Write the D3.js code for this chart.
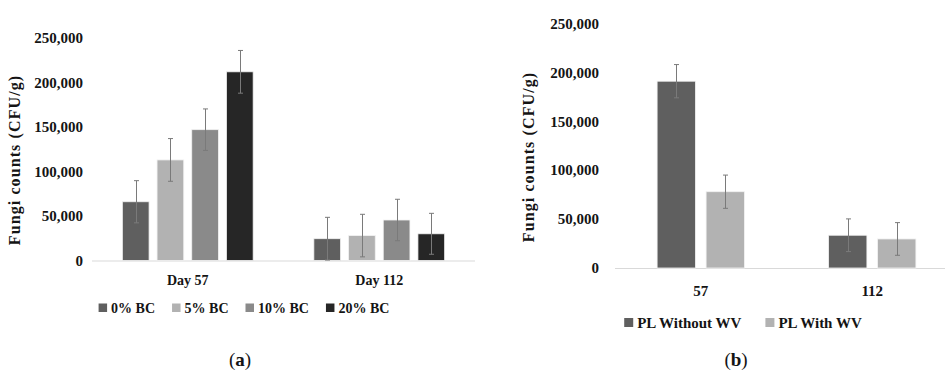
<!DOCTYPE html>
<html>
<head>
<meta charset="utf-8">
<script src="https://cdn.jsdelivr.net/npm/d3@7"></script>
<style>
  body { margin: 0; background: #fff; }
  svg { display: block; font-family: "Liberation Serif", "Times New Roman", serif; }
</style>
</head>
<body>
<svg id="chart" width="945" height="370"></svg>
<script>
// panel (a)
const daysA = ['Day 57', 'Day 112'];
const seriesA = ['0% BC', '5% BC', '10% BC', '20% BC'];
const valuesA = [
  [66000, 24500],
  [113000, 28000],
  [147000, 45500],
  [212000, 30000],
];
const errorsA = [
  [23700, 24000],
  [24000, 23900],
  [23300, 23300],
  [24000, 23000],
];
const colorsA = ['#5f5f5f', '#b2b2b2', '#8a8a8a', '#262626'];

// panel (b)
const daysB = ['57', '112'];
const seriesB = ['PL Without WV', 'PL With WV'];
const valuesB = [
  [191000, 33500],
  [78000, 29700],
];
const errorsB = [
  [17000, 16700],
  [17000, 16700],
];
const colorsB = ['#5f5f5f', '#b2b2b2'];

const yTicks = [0, 50000, 100000, 150000, 200000, 250000];
const TEXT = '#141414';
const fmt = d3.format(',');

const svg = d3.select('#chart');

function drawPanel(opt) {
  const { days, series, values, errors, colors } = opt;
  const g = svg.append('g');

  const y = d3.scaleLinear().domain([0, 250000]).range([opt.y0, opt.y1]);
  const x0 = d3.scaleBand().domain(days).range([opt.xl, opt.xr])
    .paddingInner(opt.pi).paddingOuter(opt.pi / 2);
  const x1 = d3.scaleBand().domain(series).range([0, x0.bandwidth()])
    .paddingInner(opt.barGap);

  // y tick labels (no axis line)
  g.selectAll('text.ytick')
    .data(yTicks)
    .join('text')
    .attr('class', 'ytick')
    .attr('x', opt.tickX)
    .attr('y', d => y(d))
    .attr('dy', '0.35em')
    .attr('text-anchor', 'end')
    .attr('font-size', 15)
    .attr('font-weight', 'bold')
    .attr('fill', TEXT)
    .text(d => fmt(d));

  // y title
  g.append('text')
    .attr('transform', `translate(${opt.titleX},${opt.titleY}) rotate(-90)`)
    .attr('text-anchor', 'middle')
    .attr('font-size', 16)
    .attr('font-weight', 'bold')
    .attr('letter-spacing', 1.1)
    .attr('fill', TEXT)
    .text('Fungi counts (CFU/g)');

  // baseline
  g.append('line')
    .attr('x1', opt.xl).attr('x2', opt.xr)
    .attr('y1', y(0) + 0.5).attr('y2', y(0) + 0.5)
    .attr('stroke', '#d9d9d9')
    .attr('stroke-width', 1.2);

  const rows = [];
  series.forEach((s, si) => {
    days.forEach((d, di) => {
      rows.push({ s, d, si, v: values[si][di], e: errors[si][di] });
    });
  });

  g.selectAll('rect.bar')
    .data(rows)
    .join('rect')
    .attr('class', 'bar')
    .attr('x', r => x0(r.d) + x1(r.s))
    .attr('y', r => y(r.v))
    .attr('width', x1.bandwidth())
    .attr('height', r => y(0) - y(r.v))
    .attr('fill', r => colors[r.si])
    .attr('stroke', '#f2f2f2')
    .attr('stroke-width', 0.8);

  // error bars
  const eb = g.selectAll('g.err')
    .data(rows)
    .join('g')
    .attr('class', 'err')
    .attr('stroke', '#7a7a7a')
    .attr('stroke-width', 1);
  const cx = r => Math.round(x0(r.d) + x1(r.s) + x1.bandwidth() / 2) + 0.5;
  eb.append('line')
    .attr('x1', cx).attr('x2', cx)
    .attr('y1', r => y(r.v + r.e)).attr('y2', r => y(r.v - r.e));
  [1, -1].forEach(sign => {
    eb.append('line')
      .attr('x1', r => cx(r) - 2.5).attr('x2', r => cx(r) + 2.5)
      .attr('y1', r => y(r.v + sign * r.e)).attr('y2', r => y(r.v + sign * r.e));
  });

  // category labels
  g.selectAll('text.cat')
    .data(days)
    .join('text')
    .attr('class', 'cat')
    .attr('x', d => x0(d) + x0.bandwidth() / 2)
    .attr('y', opt.catY)
    .attr('text-anchor', 'middle')
    .attr('font-size', opt.catSize)
    .attr('font-weight', 'bold')
    .attr('fill', TEXT)
    .text(d => d);

  // legend, laid out from measured text widths and centred
  const leg = g.append('g');
  const sq = opt.legSq;
  let cursor = 0;
  series.forEach((s, si) => {
    const item = leg.append('g').attr('transform', `translate(${cursor},0)`);
    item.append('rect')
      .attr('x', 0).attr('y', -sq - 1)
      .attr('width', sq).attr('height', sq)
      .attr('fill', colors[si]);
    const t = item.append('text')
      .attr('x', sq + 4)
      .attr('y', 0)
      .attr('font-size', opt.legSize)
      .attr('font-weight', 'bold')
      .attr('fill', TEXT)
      .text(s);
    cursor += sq + 4 + t.node().getComputedTextLength() + opt.legGap;
  });
  const legW = cursor - opt.legGap;
  leg.attr('transform', `translate(${opt.legCx - legW / 2},${opt.legY})`);

  // panel letter
  const lab = g.append('text')
    .attr('x', opt.labX)
    .attr('y', 366)
    .attr('text-anchor', 'middle')
    .attr('font-size', 19)
    .attr('fill', TEXT);
  lab.append('tspan').text('(');
  lab.append('tspan').attr('font-weight', 'bold').text(opt.letter);
  lab.append('tspan').text(')');
}

drawPanel({
  days: daysA, series: seriesA, values: valuesA, errors: errorsA, colors: colorsA,
  xl: 92, xr: 475, y0: 260.5, y1: 38, pi: 0.317, barGap: 0.23,
  tickX: 83, titleX: 20, titleY: 160,
  catY: 285, catSize: 14,
  legY: 313, legCx: 244, legSize: 14, legSq: 8.5, legGap: 17,
  labX: 240, letter: 'a',
});

drawPanel({
  days: daysB, series: seriesB, values: valuesB, errors: errorsB, colors: colorsB,
  xl: 615, xr: 958, y0: 268, y1: 23.5, pi: 0.491, barGap: 0.218,
  tickX: 599, titleX: 534, titleY: 157,
  catY: 296, catSize: 15,
  legY: 328, legCx: 743, legSize: 15, legSq: 9, legGap: 24,
  labX: 736, letter: 'b',
});
</script>
</body>
</html>
